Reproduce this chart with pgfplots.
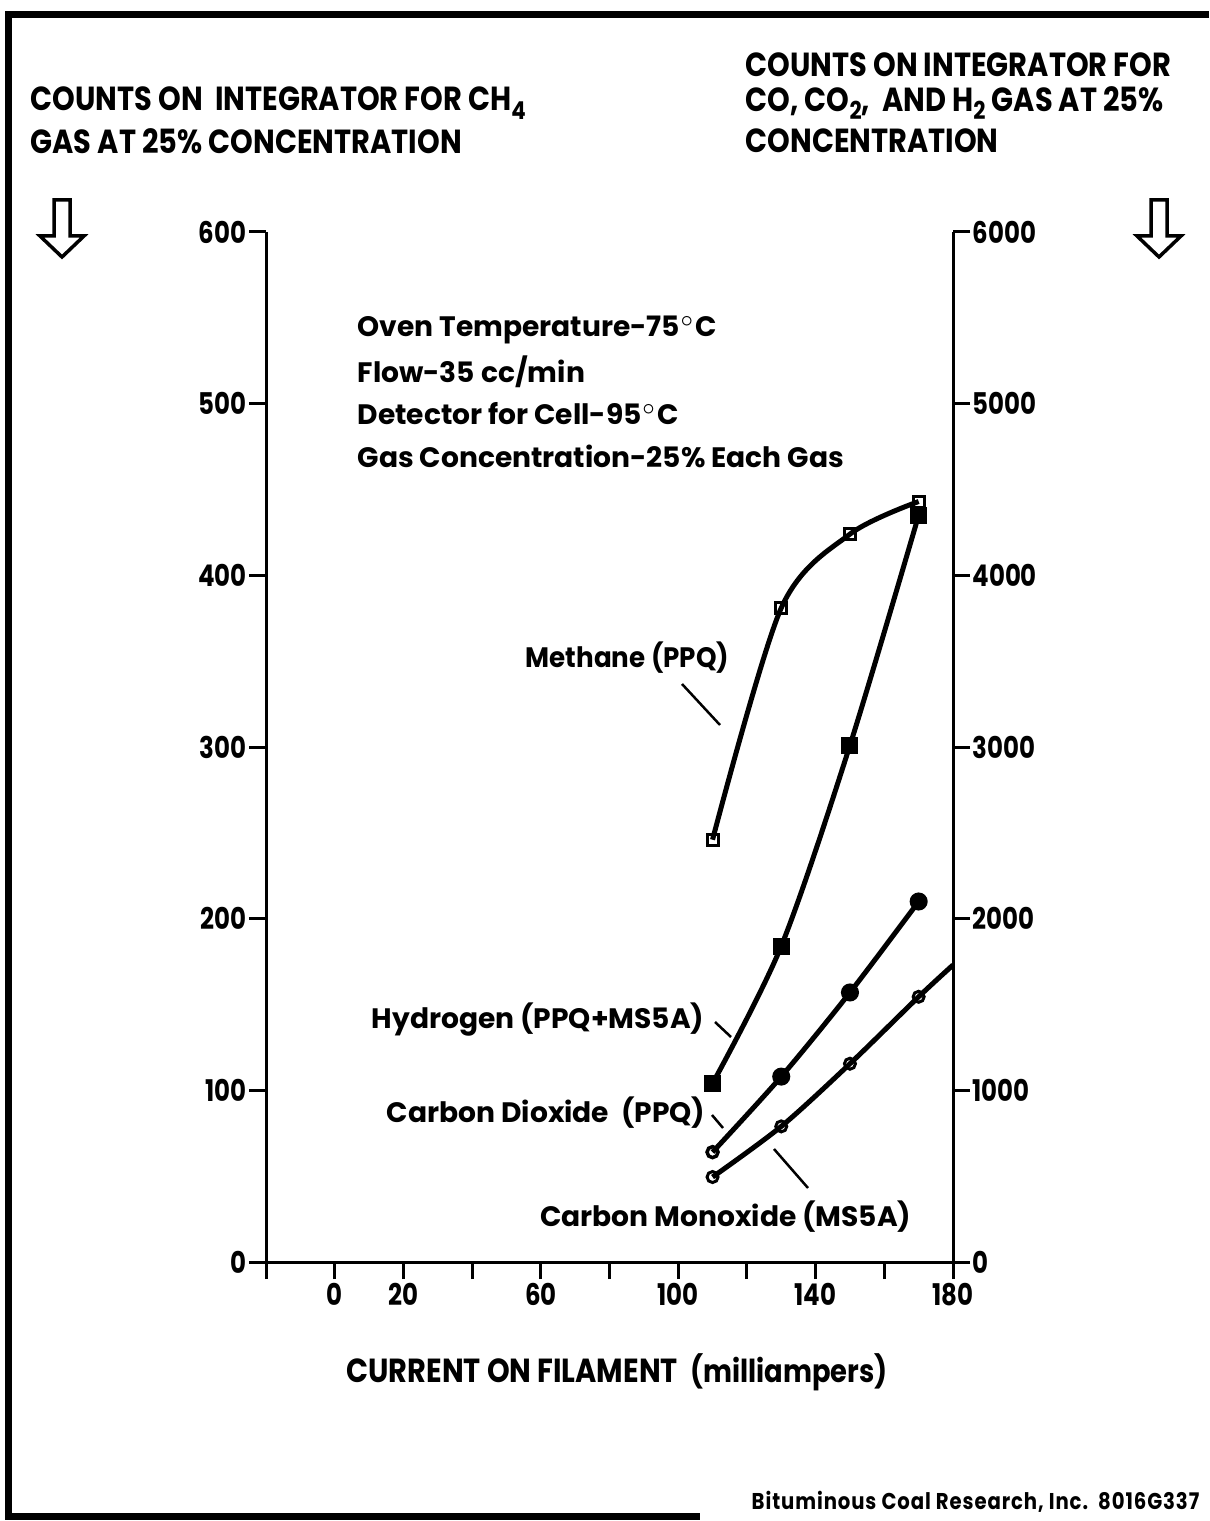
\documentclass[border=0pt]{standalone}
\usepackage{fontspec}
\setmainfont{Poppins}
\newfontfamily\capsfont{Poppins}[FakeStretch=0.865]
\newfontfamily\labfont{Poppins}[FakeStretch=0.82]
\newfontfamily\footfont{Poppins}[FakeStretch=0.86, LetterSpace=4]
\usepackage{pgfplots}
\pgfplotsset{compat=1.18}
\newcommand\sub[1]{\raisebox{-0.45ex}{\fontsize{7}{7}\selectfont #1}}
\begin{document}
\begin{tikzpicture}[x=0.1mm,y=-0.1mm]
\path[use as bounding box] (0,0) rectangle (1209,1521);
% frame
\draw[line width=0.7mm] (1209,15) -- (8,15) -- (8,1516) -- (700,1516);

\begin{axis}[
  at={(26.6mm,-126.2mm)}, anchor=south west,
  width=68.7mm, height=103mm, scale only axis,
  xmin=-20, xmax=180, ymin=0, ymax=600,
  axis x line*=bottom, axis y line*=left,
  axis line style={line width=0.3mm},
  xtick={-20,0,...,180}, xticklabels={,0,20,,60,,100,,140,,180},
  ytick={0,100,...,600},
  tick align=outside, major tick length=1.7mm,
  tick style={line width=0.3mm, black},
  ticklabel style={font=\labfont\bfseries\fontsize{8.5}{8.5}\selectfont},
  yticklabel style={inner xsep=0.5pt},
  xticklabel style={inner ysep=0pt, yshift=-0.4mm},
  /pgf/number format/assume math mode=true,
  clip=false,
]
\addplot[black, line width=0.5mm, smooth, mark=square, mark size=0.55mm,
  mark options={solid, line width=0.3mm, fill=white}]
  coordinates {(110,246) (130,381) (150,424) (170,443)};
\end{axis}

\begin{axis}[
  at={(26.6mm,-126.2mm)}, anchor=south west,
  width=68.7mm, height=103mm, scale only axis,
  xmin=-20, xmax=180, ymin=0, ymax=6000,
  axis x line=none, axis y line*=right,
  axis line style={line width=0.3mm},
  ytick={0,1000,...,6000},
  tick align=outside, major tick length=1.7mm,
  tick style={line width=0.3mm, black},
  ticklabel style={font=\labfont\bfseries\fontsize{8.5}{8.5}\selectfont},
  yticklabel style={inner xsep=0.5pt},
  /pgf/number format/assume math mode=true,
  /pgf/number format/1000 sep={},
  clip=false,
]
% Hydrogen
\addplot[black, line width=0.5mm, smooth, mark=square*, mark size=0.6mm,
  mark options={solid}]
  coordinates {(110,1040) (130,1840) (150,3010) (170,4350)};
% Carbon dioxide
\addplot[black, line width=0.5mm, smooth, mark=*, mark size=0.65mm,
  mark indices={2,3,4}, mark options={solid}]
  coordinates {(110,640) (130,1080) (150,1570) (170,2100)};
\addplot[black, only marks, mark=o, mark size=0.55mm,
  mark options={line width=0.35mm, fill=white}]
  coordinates {(110,640)};
% Carbon monoxide
\addplot[black, line width=0.5mm, smooth, mark=o, mark size=0.55mm,
  mark indices={1,2,3,4}, mark options={solid, line width=0.3mm, fill=white}]
  coordinates {(110,495) (130,790) (150,1155) (170,1545) (180,1730)};
\end{axis}

% leader lines
\draw[line width=0.25mm] (682,684) -- (720,725);
\draw[line width=0.25mm] (715,1022) -- (731,1037);
\draw[line width=0.25mm] (712,1115) -- (723,1128);
\draw[line width=0.25mm] (774,1149) -- (808,1188);

% curve labels
\begin{scope}[every node/.style={inner sep=0pt, font=\bfseries\fontsize{8}{8}\selectfont}]
\node[anchor=east] at (730,658) {\addfontfeatures{FakeStretch=0.93}Methane (PPQ)};
\node[anchor=east] at (705,1020) {Hydrogen (PPQ+MS5A)};
\node[anchor=east] at (706,1113) {Carbon Dioxide\ \ (PPQ)};
\node[anchor=east] at (912,1217) {Carbon Monoxide (MS5A)};
% conditions
\node[anchor=west] at (357,330) {Oven Temperature-75$^\circ$C};
\node[anchor=west] at (357,372) {Flow-35 cc/min};
\node[anchor=west] at (357,414) {Detector for Cell-95$^\circ$C};
\node[anchor=west] at (357,456) {Gas Concentration-25\% Each Gas};
\node[anchor=east, font=\footfont\bfseries\fontsize{6.5}{6.5}\selectfont] at (1200,1502) {Bituminous Coal Research, Inc.\ \ 8016G337};
\end{scope}

% titles
\begin{scope}[every node/.style={inner sep=0pt, anchor=west, font=\capsfont\bfseries\fontsize{9.5}{9.5}\selectfont}]
\node at (30,103) {COUNTS ON\ \ INTEGRATOR FOR CH\sub{4}};
\node at (30,141) {GAS AT 25\% CONCENTRATION};
\node at (745,65) {COUNTS ON INTEGRATOR FOR};
\node at (745,103) {CO, CO\sub{2},\ \ AND H\sub{2} GAS AT 25\%};
\node at (745,141) {CONCENTRATION};
\node[anchor=center] at (617,1372) {CURRENT ON FILAMENT\ \ {\bfseries\fontsize{9}{9}\selectfont(milliampers)}};
\end{scope}

% arrows
\foreach \cx in {62,1159}{
  \draw[line width=0.35mm, line join=miter] (\cx-8,200) -- (\cx-8,236) -- (\cx-22,236) -- (\cx,257)
     -- (\cx+22,236) -- (\cx+8,236) -- (\cx+8,200) -- cycle;
}
\end{tikzpicture}
\end{document}
